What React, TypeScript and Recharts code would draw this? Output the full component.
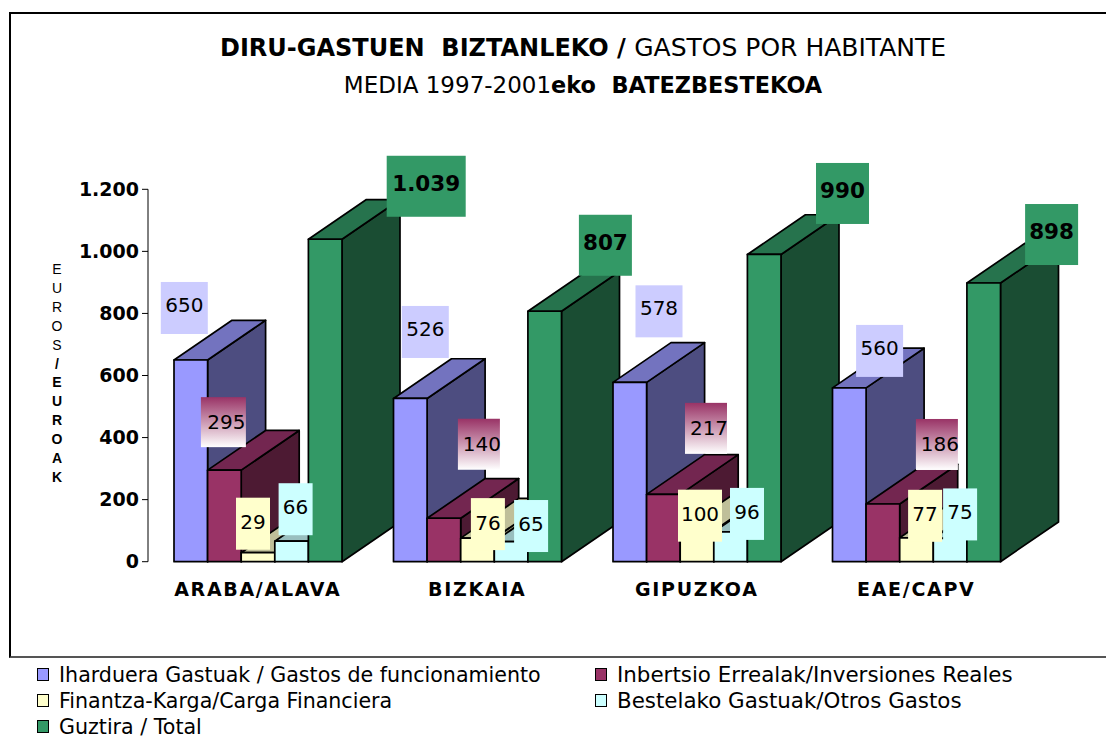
import { BarChart, Bar, XAxis, YAxis, Legend, LabelList } from 'recharts'

const categories = ['ARABA/ALAVA', 'BIZKAIA', 'GIPUZKOA', 'EAE/CAPV']
const funcionamiento = [650, 526, 578, 560]
const inversiones = [295, 140, 217, 186]
const carga = [29, 76, 100, 77]
const otros = [66, 65, 96, 75]
const total = [1039, 807, 990, 898]
const yTicks = [0, 200, 400, 600, 800, 1000, 1200]
const axisLetters = ['E', 'U', 'R', 'O', 'S', '/', 'E', 'U', 'R', 'O', 'A', 'K']

const seriesNames = [
  'Iharduera Gastuak / Gastos de funcionamiento',
  'Inbertsio Errealak/Inversiones Reales',
  'Finantza-Karga/Carga Financiera',
  'Bestelako Gastuak/Otros Gastos',
  'Guztira / Total',
]
const seriesKeys = ['funcionamiento', 'inversiones', 'carga', 'otros', 'total']

// front, side, top
const colors = [
  ['#9999ff', '#4d4d80', '#7373bf'],
  ['#993366', '#4d1a33', '#732650'],
  ['#ffffcc', '#808066', '#bfbf99'],
  ['#ccffff', '#668080', '#99bfbf'],
  ['#339966', '#1a4d33', '#26734d'],
]
const labelFill = ['#ccccff', 'url(#maroonBox)', '#ffffcc', '#ccffff', '#339966']

// the label boxes were moved by hand in the original: dx, dy from the bar's top centre, then box w, h
const labelBoxes = [
  [[-6.5, -52, 47, 52], [15, -66.5, 47, 52], [29.2, -71, 47, 52], [30.3, -37, 47, 52]],
  [[-1, -48, 45, 50], [35, -74, 42, 51], [42.6, -66, 42, 51], [54, -59.5, 42, 51]],
  [[-5, -29, 34, 52], [10.4, -14, 34, 52], [3, -15, 44, 52], [8.6, -22, 34, 52]],
  [[4, -32, 34, 52], [20, -15.5, 34, 52], [16.4, -18, 34, 52], [10, -24, 34, 52]],
  [[101, -53, 79, 61], [60.7, -66, 53, 61], [78.3, -61, 53, 61], [67.9, -48.5, 53, 61]],
]
const labelTextShift = [[0, -3], [3, 0], [0, -1.5], [0, -2], [0, -3]]

const chartData = categories.map((category, i) => ({
  category,
  funcionamiento: funcionamiento[i],
  inversiones: inversiones[i],
  carga: carga[i],
  otros: otros[i],
  total: total[i],
}))

const FONT = '"DejaVu Sans", sans-serif'
const DEPTH_X = 58
const DEPTH_Y = 39.7

const dotted = (v: number) => (v >= 1000 ? `${Math.floor(v / 1000)}.${String(v % 1000).padStart(3, '0')}` : String(v))

function Bar3D({ x, y, width, height, palette }: any) {
  if (!height || height <= 0) return null
  const r = x + width
  const b = y + height
  const line = { stroke: '#000', strokeWidth: 1.7, strokeLinejoin: 'round' as const }
  return (
    <g>
      <polygon points={`${r},${y} ${r + DEPTH_X},${y - DEPTH_Y} ${r + DEPTH_X},${b - DEPTH_Y} ${r},${b}`} fill={palette[1]} {...line} />
      <polygon points={`${x},${y} ${x + DEPTH_X},${y - DEPTH_Y} ${r + DEPTH_X},${y - DEPTH_Y} ${r},${y}`} fill={palette[2]} {...line} />
      <rect x={x} y={y} width={width} height={height} fill={palette[0]} {...line} />
    </g>
  )
}

function ValueBox({ x, y, width, value, index, seriesIndex }: any) {
  const [dx, dy, w, h] = labelBoxes[seriesIndex][index]
  const cx = x + width / 2 + dx
  const cy = y + dy
  const [tx, ty] = labelTextShift[seriesIndex]
  return (
    <g>
      <rect x={cx - w / 2} y={cy - h / 2} width={w} height={h} fill={labelFill[seriesIndex]} />
      <text
        x={cx + tx}
        y={cy + ty}
        textAnchor="middle"
        dominantBaseline="central"
        fontFamily={FONT}
        fontSize={seriesIndex === 4 ? 21.5 : 20}
        fontWeight={seriesIndex === 4 ? 700 : 400}
        fill="#000"
      >
        {dotted(Number(value))}
      </text>
    </g>
  )
}

function LegendBlock() {
  return (
    <div style={{ display: 'grid', gridTemplateColumns: '558px 480px', rowGap: 3, fontFamily: FONT, fontSize: 20.6, color: '#000' }}>
      {seriesNames.map((name, i) => (
        <div key={name} style={{ display: 'flex', alignItems: 'center', height: 23, whiteSpace: 'nowrap', fontSize: i % 2 === 1 ? 21.4 : 20.6 }}>
          <span style={{ width: 10, height: 11, marginRight: 10, border: '1.5px solid #000', background: colors[i][0], flex: 'none' }} />
          {name}
        </div>
      ))}
    </div>
  )
}

const titleStyle = {
  position: 'absolute' as const,
  left: 0,
  width: 1166,
  textAlign: 'center' as const,
  fontFamily: FONT,
  color: '#000',
  whiteSpace: 'pre' as const,
}

export default function App() {
  return (
    <div style={{ position: 'absolute', left: 0, top: 0, width: 1106, height: 740, background: '#fff', overflow: 'hidden' }}>
      {/* frame */}
      <div style={{ position: 'absolute', left: 9, top: 12, width: 1097, height: 646, borderLeft: '2px solid #000', borderTop: '2px solid #000', borderBottom: '2px solid #555', boxSizing: 'border-box' }} />

      <BarChart
        width={1106}
        height={740}
        data={chartData}
        barGap={0}
        barSize={33.6}
        margin={{ top: 189.3, left: 88, right: 80, bottom: 148.3 }}
        style={{ position: 'absolute', left: 0, top: 0 }}
      >
        <defs>
          <linearGradient id="maroonBox" x1="0" y1="0" x2="0" y2="1">
            <stop offset="0%" stopColor="#993366" />
            <stop offset="100%" stopColor="#ffffff" />
          </linearGradient>
        </defs>
        <YAxis
          width={60}
          domain={[0, 1200]}
          ticks={yTicks}
          interval={0}
          tickSize={6}
          tickMargin={3}
          tickFormatter={dotted}
          axisLine={{ stroke: '#000' }}
          tickLine={{ stroke: '#000' }}
          tick={{ fill: '#000', fontFamily: FONT, fontSize: 19, fontWeight: 700 }}
        />
        {/* one hidden axis per province, so each group paints fully over the previous one */}
        {categories.map(cat => (
          <XAxis key={cat} xAxisId={cat} dataKey="category" height={0} hide />
        ))}
        <XAxis
          xAxisId="labels"
          dataKey="category"
          height={30}
          interval={0}
          axisLine={false}
          tickLine={false}
          tickMargin={15}
          tick={{ fill: '#000', fontFamily: FONT, fontSize: 19, fontWeight: 700, letterSpacing: 1.7 }}
        />
        {categories.flatMap(cat =>
          seriesKeys.map((key, s) => (
            <Bar
              key={`${cat}-${key}`}
              xAxisId={cat}
              dataKey={(row: any) => (row.category === cat ? row[key] : null)}
              isAnimationActive={false}
              shape={(p: any) => <Bar3D {...p} palette={colors[s]} />}
            />
          ))
        )}
        {/* value boxes sit above every bar */}
        {seriesKeys.map((key, s) => (
          <Bar key={`label-${key}`} xAxisId="labels" dataKey={key} isAnimationActive={false} shape={() => <g />}>
            <LabelList dataKey={key} content={(p: any) => <ValueBox {...p} seriesIndex={s} />} />
          </Bar>
        ))}
        <Legend
          layout="horizontal"
          verticalAlign="middle"
          align="center"
          content={<LegendBlock />}
          wrapperStyle={{ position: 'absolute', left: 37, top: 663, width: 1060, height: 76 }}
        />
      </BarChart>

      <div style={{ ...titleStyle, top: 33, fontSize: 24 }}>
        <b>DIRU-GASTUEN  BIZTANLEKO / </b>
        <span style={{ fontSize: 25 }}>GASTOS POR HABITANTE</span>
      </div>
      <div style={{ ...titleStyle, top: 72, fontSize: 23 }}>
        MEDIA 1997-2001<b style={{ fontSize: 22.4 }}>eko  BATEZBESTEKOA</b>
      </div>

      {axisLetters.map((letter, i) => (
        <div
          key={i}
          style={{
            position: 'absolute',
            left: 47,
            width: 20,
            top: 261 + i * 18.9,
            textAlign: 'center',
            fontFamily: '"Liberation Sans", sans-serif',
            fontSize: 14,
            fontWeight: i > 4 ? 700 : 400,
            lineHeight: '16px',
            color: '#000',
          }}
        >
          {letter}
        </div>
      ))}
    </div>
  )
}
